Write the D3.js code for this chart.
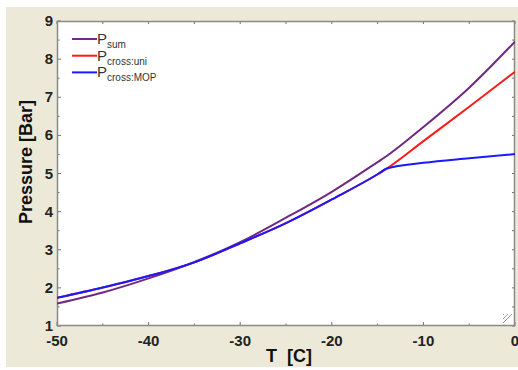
<!DOCTYPE html>
<html><head><meta charset="utf-8">
<script src="https://cdn.jsdelivr.net/npm/d3@7"></script>
<style>html,body{margin:0;padding:0;background:#fff;}svg{display:block;}</style>
</head><body>
<script>
const temps = [-50, -45, -40, -35, -30, -25, -20, -15, -14, -10, -5, 0];
const pSum = [1.59, 1.88, 2.25, 2.68, 3.20, 3.84, 4.52, 5.30, 5.46, 6.22, 7.25, 8.46];
const pCrossUni = [1.74, 2.01, 2.31, 2.67, 3.17, 3.70, 4.32, 4.98, 5.13, 5.85, 6.75, 7.67];
const pCrossMop = [1.74, 2.01, 2.31, 2.67, 3.17, 3.70, 4.32, 4.98, 5.13, 5.28, 5.40, 5.51];
const xTicks = [-50, -40, -30, -20, -10, 0];
const yTicks = [1, 2, 3, 4, 5, 6, 7, 8, 9];
const seriesNames = [["P", "sum"], ["P", "cross:uni"], ["P", "cross:MOP"]];
const seriesColors = ["#6e2a80", "#ff1a1a", "#1a1aff"];

const W = 518, H = 370;
const m = {l: 57, t: 21, r: 515, b: 326};
const svg = d3.select("body").append("svg").attr("width", W).attr("height", H);
svg.append("rect").attr("x", 6).attr("y", 7).attr("width", W - 6).attr("height", 360).attr("fill", "#ECE9D8");
svg.append("rect").attr("x", m.l).attr("y", m.t).attr("width", m.r - m.l).attr("height", m.b - m.t).attr("fill", "#fff");

const x = d3.scaleLinear().domain([-50, 0]).range([m.l, m.r]);
const y = d3.scaleLinear().domain([1, 9]).range([m.b, m.t]);

const tickCol = "#6f6f6f";
const g = svg.append("g");
d3.range(-50, 0.1, 5).forEach(v => {
  const major = v % 10 === 0;
  g.append("line").attr("x1", x(v)).attr("x2", x(v)).attr("y1", m.b).attr("y2", m.b - (major ? 4 : 2.5)).attr("stroke", tickCol);
  g.append("line").attr("x1", x(v)).attr("x2", x(v)).attr("y1", m.t).attr("y2", m.t + 3).attr("stroke", tickCol);
});
d3.range(1, 9.01, 0.5).forEach(v => {
  const major = v % 1 === 0;
  g.append("line").attr("y1", y(v)).attr("y2", y(v)).attr("x1", m.l).attr("x2", m.l + (major ? 4 : 2.5)).attr("stroke", tickCol);
  g.append("line").attr("y1", y(v)).attr("y2", y(v)).attr("x1", m.r).attr("x2", m.r - 3).attr("stroke", tickCol);
});
svg.append("rect").attr("x", m.l + 0.5).attr("y", m.t + 0.5).attr("width", m.r - m.l - 1).attr("height", m.b - m.t - 1)
  .attr("fill", "none").attr("stroke", "#8a8a8a").attr("stroke-width", 1.5);

svg.append("g").selectAll("text").data(xTicks).join("text")
  .attr("x", d => x(d)).attr("y", 346).attr("text-anchor", "middle")
  .attr("font-family", "Liberation Sans, Arial, sans-serif").attr("font-weight", "bold").attr("font-size", 15).attr("fill", "#222")
  .text(d => d);
svg.append("g").selectAll("text").data(yTicks).join("text")
  .attr("x", 53).attr("y", d => y(d) + 5).attr("text-anchor", "end")
  .attr("font-family", "Liberation Sans, Arial, sans-serif").attr("font-weight", "bold").attr("font-size", 15).attr("fill", "#222")
  .text(d => d);

svg.append("text").attr("x", 289).attr("y", 362).attr("text-anchor", "middle")
  .attr("font-family", "Liberation Sans, Arial, sans-serif").attr("font-weight", "bold").attr("font-size", 18).attr("fill", "#111")
  .text("T\u00a0\u00a0[C]");
svg.append("text").attr("transform", "translate(32,162) rotate(-90)").attr("text-anchor", "middle")
  .attr("font-family", "Liberation Sans, Arial, sans-serif").attr("font-weight", "bold").attr("font-size", 18).attr("fill", "#111")
  .text("Pressure [Bar]");

const line = d3.line().x(d => x(d[0])).y(d => y(d[1])).curve(d3.curveMonotoneX);
const all = [pSum, pCrossUni, pCrossMop];
const drawOrder = [1, 0, 2];
svg.append("clipPath").attr("id", "c").append("rect").attr("x", m.l).attr("y", m.t).attr("width", m.r - m.l).attr("height", m.b - m.t);
drawOrder.forEach(i => {
  svg.append("path").attr("clip-path", "url(#c)")
    .attr("d", line(temps.map((t, k) => [t, all[i][k]])))
    .attr("fill", "none").attr("stroke", seriesColors[i]).attr("stroke-width", 2);
});

seriesNames.forEach((nm, i) => {
  const ly = 39 + i * 16.7;
  svg.append("line").attr("x1", 72).attr("x2", 97).attr("y1", ly).attr("y2", ly).attr("stroke", seriesColors[i]).attr("stroke-width", 2);
  const t = svg.append("text").attr("x", 97).attr("y", ly + 5)
    .attr("font-family", "Liberation Sans, Arial, sans-serif").attr("font-size", 15).attr("fill", "#333");
  t.append("tspan").text(nm[0]);
  t.append("tspan").attr("font-size", 10).attr("dy", 4).text(nm[1]);
});

[0, 4, 8].forEach(o => {
  svg.append("line").attr("x1", 512 - o).attr("y1", 314).attr("x2", 503).attr("y2", 323 - o)
    .attr("stroke", "#9a9a9a").attr("stroke-width", 1);
});
</script>
</body></html>
